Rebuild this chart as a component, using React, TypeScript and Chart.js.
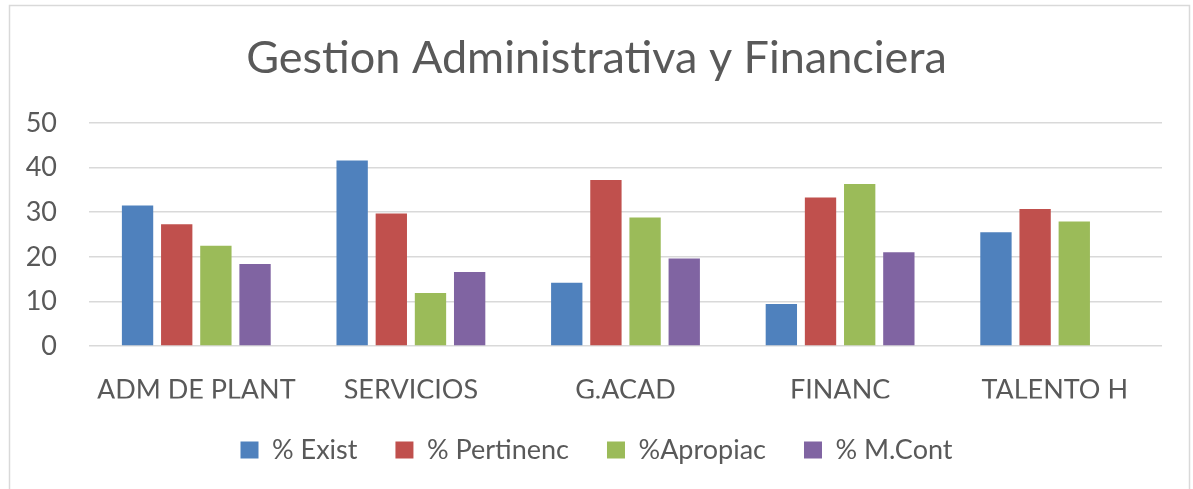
import React, { useEffect, useRef } from "react";
import { Chart, registerables } from "chart.js";

Chart.register(...registerables);

const title = "Gestion Administrativa y Financiera";
const categories = ["ADM DE PLANT", "SERVICIOS", "G.ACAD", "FINANC", "TALENTO H"];
const seriesNames = ["% Exist", "% Pertinenc", "%Apropiac", "% M.Cont"];
const exist = [31.5, 41.6, 14.2, 9.4, 25.5];
const pertinenc = [27.3, 29.7, 37.2, 33.3, 30.7];
const apropiac = [22.5, 11.9, 28.8, 36.3, 27.9];
const mcont = [18.4, 16.6, 19.6, 21.0, null];
const yTicks = [0, 10, 20, 30, 40, 50];

const colors = ["#4F81BD", "#C0504D", "#9BBB59", "#8064A2"];
const FONT = "Lato, 'Open Sans', sans-serif";
const TEXT = "#595959";

const borderPlugin = {
  id: "outerBorder",
  afterLayout(chart: any) {
    if (chart.titleBlock) {
      chart.titleBlock.left = 0;
      chart.titleBlock.right = chart.width;
    }
    if (chart.legend) {
      chart.legend.left = 0;
      chart.legend.right = chart.width;
    }
  },
  beforeDraw(chart: any) {
    const ctx = chart.ctx;
    ctx.save();
    ctx.fillStyle = "#ffffff";
    ctx.fillRect(0, 0, chart.width, chart.height);
    ctx.strokeStyle = "#d9d9d9";
    ctx.lineWidth = 1.5;
    ctx.strokeRect(9.5, 5.5, 1180, 500);
    ctx.restore();
  },
};

export default function App() {
  const ref = useRef<HTMLCanvasElement | null>(null);
  useEffect(() => {
    if (!ref.current) return;
    const values = [exist, pertinenc, apropiac, mcont];
    const chart = new Chart(ref.current, {
      type: "bar",
      data: {
        labels: categories,
        datasets: seriesNames.map((name, i) => ({
          label: name,
          data: values[i] as any,
          backgroundColor: colors[i],
          borderWidth: 0,
          barPercentage: 0.8,
          categoryPercentage: 0.73,
        })),
      },
      options: {
        responsive: false,
        animation: false,
        layout: { padding: { left: 15, right: 31, top: 0, bottom: 15.5 } },
        plugins: {
          title: {
            display: true,
            text: title,
            color: TEXT,
            font: { family: FONT, size: 45, weight: "normal" as any },
            padding: { top: 31, bottom: 38 },
          },
          legend: {
            position: "bottom",
            labels: {
              color: TEXT,
              font: { family: FONT, size: 27 },
              boxWidth: 18,
              boxHeight: 17,
              padding: 38,
            },
          },
          tooltip: { enabled: false },
        },
        scales: {
          x: {
            grid: { display: false, drawTicks: false },
            border: { display: false },
            ticks: { color: TEXT, font: { family: FONT, size: 27 }, padding: 28, maxRotation: 0 },
            afterFit(scale: any) {
              scale.height = 52.5;
            },
          },
          y: {
            min: yTicks[0],
            max: yTicks[yTicks.length - 1],
            ticks: { stepSize: 10, color: TEXT, font: { family: FONT, size: 27 }, padding: 32 },
            grid: { color: "#d9d9d9", lineWidth: 1.5, drawTicks: false },
            border: { display: false },
            afterFit(scale: any) {
              scale.width = 74;
            },
          },
        },
      },
      plugins: [borderPlugin],
    });
    return () => chart.destroy();
  }, []);
  return (
    <div style={{ position: "fixed", left: 0, top: 0, width: 1193, height: 489, background: "#fff" }}>
      <canvas ref={ref} width={1193} height={489} style={{ display: "block" }} />
    </div>
  );
}
